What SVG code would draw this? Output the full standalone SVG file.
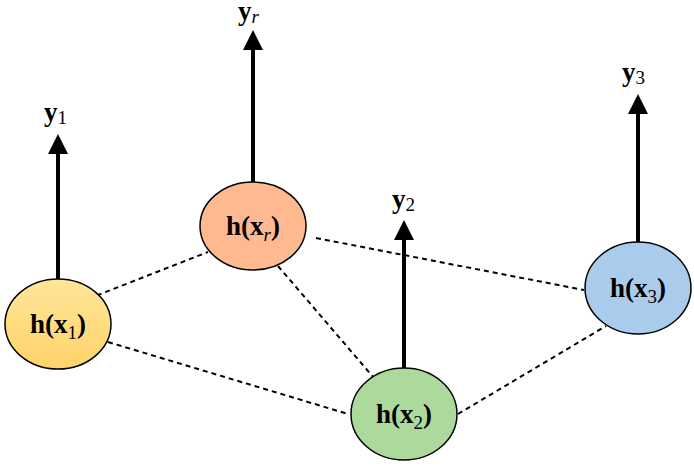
<svg xmlns="http://www.w3.org/2000/svg" width="694" height="472" viewBox="0 0 694 472">
<style>
.n{stroke:#000;stroke-width:1.5}
.t{font-family:"Liberation Serif",serif;font-size:27px;font-weight:bold;text-anchor:middle}
.l{font-family:"Liberation Serif",serif;font-size:27px;font-weight:bold}
.s{font-weight:normal;font-size:19px}
.a{stroke:#000;stroke-width:4;fill:none;marker-end:url(#ah)}
.d{stroke:#000;stroke-width:2;stroke-dasharray:5,4;fill:none}
</style>
<defs>
<marker id="ah" markerWidth="5" markerHeight="5" refX="2.5" refY="2.5" orient="auto" markerUnits="strokeWidth"><path d="M0,0L5,2.5L0,5z"/></marker>
<linearGradient id="g1" x1="0" y1="0" x2="0" y2="1"><stop offset="0" stop-color="#ffe69a"/><stop offset="1" stop-color="#ffd36a"/></linearGradient>
</defs>
<g id="connectors">
<line class="d" x1="80" y1="302" x2="208" y2="252"/>
<line class="d" x1="108" y1="342" x2="348" y2="414"/>
<line class="d" x1="278" y1="266" x2="374" y2="378"/>
<line class="d" x1="316" y1="238" x2="584" y2="290"/>
<line class="d" x1="458" y1="414" x2="606" y2="326"/>
<line class="a" x1="58" y1="279" x2="58" y2="144"/>
<line class="a" x1="253" y1="182" x2="253" y2="40"/>
<line class="a" x1="404" y1="368" x2="404" y2="230"/>
<line class="a" x1="638" y1="242" x2="638" y2="104"/>
</g>
<g id="n1"><ellipse class="n" cx="58" cy="324" rx="53" ry="45" fill="url(#g1)"/><text class="t" x="58" y="333">h(x<tspan class="s" dy="6">1</tspan><tspan dy="-6">)</tspan></text></g>
<g id="nr"><ellipse class="n" cx="253" cy="226" rx="53" ry="44" fill="#ffb990"/><text class="t" x="253" y="235">h(x<tspan class="s" font-style="italic" dy="6">r</tspan><tspan dy="-6">)</tspan></text></g>
<g id="n2"><ellipse class="n" cx="404" cy="414" rx="53" ry="46" fill="#acd99c"/><text class="t" x="404" y="423">h(x<tspan class="s" dy="6">2</tspan><tspan dy="-6">)</tspan></text></g>
<g id="n3"><ellipse class="n" cx="638" cy="288" rx="53" ry="46" fill="#a9cbec"/><text class="t" x="638" y="297">h(x<tspan class="s" dy="6">3</tspan><tspan dy="-6">)</tspan></text></g>
<g id="labels">
<text class="l" x="44" y="121">y<tspan class="s" dy="3">1</tspan></text>
<text class="l" x="238" y="20">y<tspan class="s" font-style="italic" dy="3">r</tspan></text>
<text class="l" x="392" y="208">y<tspan class="s" dy="3">2</tspan></text>
<text class="l" x="622" y="81">y<tspan class="s" dy="3">3</tspan></text>
</g>
</svg>
